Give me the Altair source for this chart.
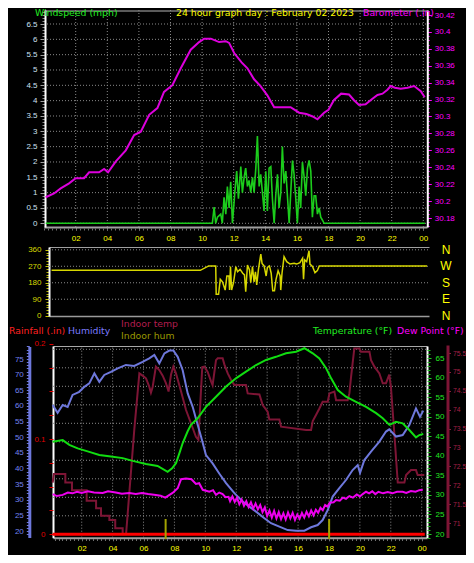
import altair as alt
import pandas as pd

# ---------------- series (hour of day, value) ----------------
BARO_HOURS = [0.1, 0.63, 1.05, 1.58, 2.0, 2.53, 2.85, 3.48, 3.8, 4.05,
              4.54, 5.17, 5.7, 6.12, 6.65, 7.17, 7.59, 8.12, 8.65, 9.28,
              9.81, 10.13, 10.55, 11.08, 11.5, 11.71, 12.03, 12.5, 12.87, 13.29,
              13.7, 14.13, 14.56, 15.1, 15.6, 16.14, 16.6, 17.0, 17.3, 17.72,
              18.0, 18.35, 18.8, 19.3, 19.6, 19.93, 20.35, 20.78, 21.1, 21.42,
              21.73, 21.94, 22.2, 22.57, 23.0, 23.42, 23.84, 24.09]
BARO_INHG = [30.2045, 30.209, 30.215, 30.221, 30.227, 30.227, 30.234, 30.234, 30.238, 30.234,
             30.247, 30.26, 30.278, 30.282, 30.302, 30.31, 30.329, 30.337, 30.357, 30.379,
             30.388, 30.392, 30.392, 30.388, 30.389, 30.387, 30.375, 30.364, 30.357, 30.344,
             30.336, 30.325, 30.311, 30.311, 30.311, 30.3045, 30.303, 30.300, 30.2967, 30.3045,
             30.308, 30.3195, 30.327, 30.326, 30.3195, 30.3136, 30.3144, 30.321, 30.3255, 30.327,
             30.3317, 30.336, 30.334, 30.3327, 30.334, 30.336, 30.330, 30.3227]

WIND_HOURS = [0.1, 10.65, 10.76, 10.86, 10.97, 11.18, 11.28, 11.39, 11.5, 11.6,
              11.71, 11.81, 11.92, 12.07, 12.19, 12.3, 12.45, 12.55, 12.66, 12.76,
              12.87, 12.97, 13.08, 13.19, 13.29, 13.4, 13.5, 13.61, 13.71, 13.82,
              13.92, 14.03, 14.13, 14.24, 14.35, 14.45, 14.56, 14.66, 14.77, 14.87,
              14.98, 15.08, 15.19, 15.3, 15.4, 15.51, 15.61, 15.72, 15.82, 15.93,
              16.03, 16.14, 16.24, 16.35, 16.46, 16.56, 16.67, 16.77, 16.88, 16.98,
              17.09, 17.19, 17.3, 17.41, 17.51, 17.62, 17.72, 24.1]
WIND_MPH = [0, 0, 0.53, 0, 0.2, 0.3, 0, 0.85, 0.3, 1.2,
            0.5, 1.35, 0, 1.0, 1.7, 0.8, 1.85, 1.0, 1.5, 1.8,
            1.2, 1.4, 1.0, 1.5, 1.0, 1.8, 2.85, 1.2, 1.6, 1.0,
            0.4, 1.7, 0.4, 1.8, 1.85, 0.8, 0, 0.9, 1.6, 0.5,
            1.0, 2.5, 1.3, 1.7, 0.9, 0, 1.0, 2.05, 1.6, 0.8,
            0, 1.2, 0.5, 2.0, 1.5, 0.9, 1.8, 2.05, 1.7, 0.2,
            0.9, 0.9, 0.3, 0.5, 0.2, 0.1, 0, 0]

DIR_HOURS = [0.1, 9.57, 10.1, 10.55, 10.58, 10.73, 10.84, 10.98, 11.15, 11.26,
             11.39, 11.43, 11.49, 11.56, 11.68, 11.83, 11.94, 12.1, 12.27, 12.38,
             12.46, 12.57, 12.7, 12.78, 12.89, 12.99, 13.08, 13.16, 13.27, 13.42,
             13.5, 13.63, 13.76, 13.84, 13.97, 14.08, 14.18, 14.29, 14.39, 14.52,
             14.65, 14.69, 14.77, 14.9, 15.07, 15.28, 15.54, 15.7, 15.91, 16.08,
             16.14, 16.21, 16.34, 16.49, 16.55, 16.72, 16.87, 17.02, 17.14, 24.0]
DIR_DEG = [248, 248, 272, 272, 117, 117, 199, 185, 140, 217,
           217, 140, 268, 140, 180, 268, 240, 253, 232, 223,
           131, 277, 250, 180, 268, 185, 240, 168, 253, 337,
           286, 272, 217, 264, 272, 232, 136, 136, 199, 246,
           217, 140, 232, 322, 295, 282, 286, 282, 290, 314,
           199, 305, 295, 355, 282, 268, 235, 246, 272, 272]

HUM_HOURS = [0.12, 0.44, 0.77, 1.09, 1.41, 1.84, 2.17, 2.49, 2.82, 3.14,
             3.46, 3.89, 4.33, 4.86, 5.4, 5.94, 6.37, 6.7, 7.02, 7.35,
             7.67, 7.93, 8.21, 8.53, 8.86, 9.18, 9.39, 9.72, 10.04, 10.47,
             10.9, 11.34, 11.88, 12.42, 12.85, 13.28, 13.82, 14.25, 14.79, 15.33,
             15.87, 16.41, 16.84, 17.27, 17.59, 17.92, 18.24, 18.67, 19.1, 19.53,
             19.86, 20.01, 20.29, 20.72, 21.26, 21.69, 21.9, 22.34, 22.77, 23.2,
             23.63, 23.89, 24.1]
HUM_PCT = [60.3, 57.8, 60.3, 59.7, 63.5, 64.5, 66.1, 67.2, 70.4, 67.7,
           69.9, 70.9, 72.0, 73.1, 72.8, 74.1, 75.2, 76.3, 73.6, 76.8,
           77.7, 77.7, 75.7, 71.5, 64.0, 59.7, 56.0, 50.2, 44.3, 41.6,
           38.4, 35.3, 32.1, 29.4, 27.8, 26.2, 24.1, 22.5, 21.4, 20.3,
           20.1, 20.1, 21.2, 21.9, 23.5, 26.7, 31.0, 33.7, 36.3, 39.5,
           41.1, 38.6, 42.7, 45.4, 48.6, 51.8, 52.5, 50.2, 50.7, 53.9,
           59.2, 56.5, 58.5]

TEMP_HOURS = [0.12, 0.77, 1.2, 1.74, 2.49, 3.14, 3.89, 4.65, 5.3, 6.16,
              6.91, 7.56, 7.85, 8.1, 8.35, 8.53, 8.85, 9.07, 9.5, 10.04,
              10.69, 11.34, 11.98, 12.63, 13.28, 13.93, 14.57, 15.22, 15.87, 16.41,
              16.95, 17.38, 17.81, 18.14, 18.57, 19.1, 19.75, 20.4, 21.05, 21.48,
              21.91, 22.34, 22.77, 23.2, 23.63, 23.85, 24.1]
TEMP_F = [43.6, 44.0, 42.8, 41.9, 41.0, 40.2, 39.8, 39.4, 38.7, 37.9,
          37.4, 35.9, 36.8, 38.1, 41.0, 43.2, 46.2, 47.9, 49.6, 52.5,
          55.1, 57.7, 59.8, 61.5, 63.2, 64.5, 65.3, 66.2, 66.6, 67.5,
          66.2, 64.9, 62.4, 59.8, 56.8, 55.1, 53.8, 52.5, 50.9, 49.6,
          47.9, 48.7, 48.3, 46.6, 44.7, 45.3, 45.6]

DEW_HOURS = [0.12, 0.4, 0.77, 1.1, 1.4, 1.7, 2.0, 2.4, 2.8, 3.36,
             3.7, 4.2, 4.6, 5.08, 5.5, 5.9, 6.3, 6.8, 7.1, 7.41,
             7.88, 8.21, 8.43, 8.75, 9.1, 9.39, 9.6, 9.83, 10.26, 10.5,
             10.69, 10.9, 11.12, 11.3, 11.5, 11.6, 11.75, 11.9, 12.05, 12.2,
             12.35, 12.5, 12.65, 12.8, 12.95, 13.1, 13.25, 13.4, 13.55, 13.7,
             13.85, 14.0, 14.15, 14.3, 14.45, 14.6, 14.75, 14.9, 15.05, 15.2,
             15.35, 15.5, 15.65, 15.8, 15.95, 16.1, 16.25, 16.4, 16.55, 16.7,
             16.85, 17.0, 17.15, 17.3, 17.45, 17.6, 17.75, 17.9, 18.05, 18.3,
             18.46, 18.7, 18.9, 19.1, 19.32, 19.55, 19.8, 20.0, 20.18, 20.4,
             20.6, 20.8, 21.0, 21.2, 21.5, 21.8, 22.1, 22.4, 22.77, 23.0,
             23.3, 23.6, 23.85, 24.07]
DEW_F = [30.2, 29.7, 30.0, 30.6, 30.4, 30.8, 30.5, 30.9, 30.6, 30.5,
         30.9, 30.6, 30.3, 30.5, 30.2, 30.5, 30.2, 30.0, 29.8, 29.3,
         30.5, 31.7, 34.0, 34.2, 34.0, 32.8, 33.0, 31.3, 30.8, 31.2,
         30.0, 30.6, 30.2, 29.4, 29.5, 28.4, 29.6, 28.2, 29.3, 27.6,
         28.8, 27.2, 28.4, 26.9, 28.1, 26.5, 27.8, 26.3, 27.4, 25.6,
         26.8, 24.6, 26.0, 24.2, 25.9, 24.0, 25.6, 23.8, 25.3, 23.7,
         25.5, 24.0, 25.4, 23.6, 25.0, 23.9, 25.4, 24.2, 25.7, 24.5,
         26.0, 24.8, 26.2, 25.4, 26.7, 26.1, 27.4, 27.0, 28.0, 28.1,
         28.7, 28.5, 29.3, 29.0, 29.7, 29.3, 30.1, 29.6, 30.2, 30.8,
         30.4, 30.9, 30.2, 30.8, 30.4, 30.7, 30.4, 30.8, 30.8, 30.5,
         31.0, 30.8, 31.2, 31.3]

INTEMP_HOURS = [0.12, 0.2, 0.94, 0.94, 1.37, 1.37, 2.32, 2.32, 2.93, 2.93,
                3.25, 3.25, 3.79, 3.79, 4.17, 4.17, 4.65, 4.65, 4.87, 5.4,
                5.73, 5.94, 6.16, 6.37, 6.48, 6.59, 6.8, 7.02, 7.24, 7.45,
                7.62, 7.78, 7.93, 8.1, 8.43, 8.75, 9.07, 9.39, 9.55, 9.8,
                9.94, 10.15, 10.37, 10.47, 10.69, 10.8, 11.12, 11.23, 11.45, 11.66,
                11.88, 12.63, 12.74, 13.5, 13.71, 14.03, 14.14, 14.79, 14.9, 16.52,
                16.84, 16.95, 17.16, 17.38, 17.59, 17.92, 18.03, 18.35, 18.46, 19.21,
                19.32, 19.43, 19.64, 19.96, 20.07, 20.62, 20.72, 20.94, 21.26, 21.48,
                21.69, 21.9, 22.01, 22.23, 22.45, 22.88, 22.99, 23.31, 23.63, 23.74,
                24.17]
INTEMP_F = [72.07, 72.3, 72.3, 72.07, 72.07, 71.87, 71.87, 71.59, 71.59, 71.39,
            71.39, 71.19, 71.19, 71.08, 71.08, 70.86, 70.86, 70.7, 70.7, 73.46,
            74.96, 74.9, 74.83, 74.61, 74.45, 74.6, 75.14, 75.05, 74.9, 74.7,
            74.48, 74.93, 75.14, 74.96, 74.48, 73.99, 73.64, 73.28, 73.2, 75.13,
            75.14, 75.0, 74.75, 74.65, 75.31, 75.36, 75.36, 75.2, 74.96, 74.79,
            74.65, 74.65, 74.43, 74.4, 74.12, 73.95, 73.74, 73.74, 73.55, 73.46,
            73.46, 73.7, 73.86, 74.03, 74.21, 74.21, 74.43, 74.48, 74.25, 74.25,
            74.43, 74.87, 75.62, 75.62, 75.53, 75.53, 75.31, 75.14, 74.96, 74.7,
            74.7, 74.93, 74.6, 73.37, 72.07, 72.07, 72.27, 72.4, 72.4, 72.27,
            72.27]

RAIN_HOURS = [0.12, 24.2]
RAIN_IN = [0.0, 0.0]
SUN_MARK_HOURS = [7.43, 18.01]

# ---------------- ticks and labels ----------------
HOUR_TICKS = [2, 4, 6, 8, 10, 12, 14, 16, 18, 20, 22, 24]
HOUR_LABELS = ["02", "04", "06", "08", "10", "12", "14", "16", "18", "20", "22", "00"]
HOUR_MINOR = [i * 0.25 for i in range(0, 97)]
WIND_TICKS = [0, 0.5, 1, 1.5, 2, 2.5, 3, 3.5, 4, 4.5, 5, 5.5, 6, 6.5]
WIND_MINOR = [round(i * 0.1, 1) for i in range(0, 70)]
BARO_TICKS = [30.18, 30.2, 30.22, 30.24, 30.26, 30.28, 30.3, 30.32, 30.34, 30.36, 30.38, 30.4, 30.42]
BARO_MINOR = [round(30.17 + i * 0.005, 3) for i in range(0, 52)]
DIR_TICKS = [0, 90, 180, 270, 360]
DIR_GRID = [90, 180, 270, 360]
DIR_MINOR = list(range(0, 361, 15))
COMPASS_DEG = [0, 90, 180, 270, 360]
COMPASS_TXT = ["N", "E", "S", "W", "N"]
HUM_MINOR = list(range(19, 80))
TEMP_TICKS = [20, 25, 30, 35, 40, 45, 50, 55, 60, 65]
TEMP_MINOR = list(range(19, 68))
INTEMP_TICKS = [71, 71.5, 72, 72.5, 73, 73.5, 74, 74.5, 75, 75.5]
RAIN_TICKS = [0, 0.1, 0.2]
RAIN_LABELS = ["0", "0.1", "0.2"]
RAIN_MINOR = [round(i * 0.025, 3) for i in range(0, 9)]
GRID3_STEPS = list(range(1, 11))

# ---------------- layout helpers ----------------
W, H = 458, 547
M = 8
FONT = "Arial"
TFONT = "DejaVu Sans"
GRID = "#8a8a8a"
DASH = [1, 2]


def lin(v0, p0, v1, p1, lo, hi):
    k = (p1 - p0) / (v1 - v0)
    d0 = v0 + (lo - p0) / k
    d1 = v0 + (hi - p0) / k
    return alt.Scale(domain=[d0, d1], range=[lo - M, hi - M], nice=False, zero=False)


BASE = dict(title=None, grid=False, domain=False, ticks=False, labels=False,
            labelFont=FONT, labelFontSize=8, labelOverlap=False, labelFlush=False)


def axis(orient, at, **kw):
    p = at - M
    off = {"left": -p, "right": p - W, "top": -p, "bottom": p - H}[orient]
    opts = dict(BASE)
    opts.update(kw)
    return alt.Axis(orient=orient, offset=off, **opts)


def label_map(values, labels):
    expr = "''"
    for v, l in zip(values, labels):
        expr = f"abs(datum.value - {v}) < 0.000001 ? '{l}' : ({expr})"
    return expr


def series(hours, vals):
    return pd.DataFrame({"h": hours, "v": vals, "i": list(range(len(hours)))})


def txt(s, x, y, color, size=9.3, font=TFONT, align="left"):
    return alt.Chart(pd.DataFrame({"t": [s]})).mark_text(
        align=align, baseline="middle", color=color, font=font, fontSize=size
    ).encode(x=alt.value(x - M), y=alt.value(y - M), text="t:N")


# ---------------- panel 1 : windspeed + barometer ----------------
X1 = lin(0, 44.1, 24, 423.3, 44, 427)
W1 = lin(0, 223.3, 6.5, 24, 227, 10)
B1 = lin(30.18, 218, 30.42, 15, 227, 10)

p1_hgrid = alt.Chart(pd.DataFrame({"v": WIND_TICKS, "a": X1.domain[0], "b": X1.domain[1]})).mark_rule(
    color=GRID, strokeDash=DASH, strokeWidth=1).encode(
    x=alt.X("a:Q", scale=X1, axis=axis("top", 10.5, domain=True, domainColor="#b4b4b4", domainWidth=1)),
    x2="b:Q",
    y=alt.Y("v:Q", scale=W1, axis=axis("left", 45, ticks=True, values=WIND_MINOR, tickSize=3, tickColor="#8a8a8a")))

p1_vgrid = alt.Chart(pd.DataFrame({"h": HOUR_TICKS, "lo": B1.domain[0], "hi": B1.domain[1]})).mark_rule(
    color=GRID, strokeDash=DASH, strokeWidth=1).encode(
    x=alt.X("h:Q", scale=X1, axis=axis("bottom", 227, domain=True, domainColor="#a0a0a0", domainWidth=2,
                                       ticks=True, tickColor="#a0a0a0", tickSize=3, labels=True,
                                       values=HOUR_TICKS, labelExpr=label_map(HOUR_TICKS, HOUR_LABELS),
                                       labelColor="#ffff00", labelPadding=4)),
    y=alt.Y("lo:Q", scale=B1, axis=axis("right", 427.3, ticks=True, values=BARO_MINOR, tickSize=2,
                                        tickColor="#cc00cc")),
    y2="hi:Q")

p1_baro = alt.Chart(series(BARO_HOURS, BARO_INHG)).mark_line(color="#dd00dd", strokeWidth=2).encode(
    x=alt.X("h:Q", scale=X1, axis=None),
    y=alt.Y("v:Q", scale=B1, axis=axis("right", 427.3, domain=True, domainColor="#ffffff", domainWidth=2,
                                       ticks=True, tickColor="#ff00ff", tickSize=4, labels=True,
                                       values=BARO_TICKS, format="~g", labelColor="#ff00ff", labelPadding=3)),
    order="i:Q")

p1_wind = alt.Chart(series(WIND_HOURS, WIND_MPH)).mark_line(color="#1ccc1c", strokeWidth=1.6).encode(
    x=alt.X("h:Q", scale=X1, axis=axis("bottom", 228, ticks=True, values=HOUR_MINOR, tickSize=2,
                                       tickColor="#707070")),
    y=alt.Y("v:Q", scale=W1, axis=axis("left", 45, domain=True, domainColor="#ffffff", domainWidth=2,
                                       ticks=True, tickColor="#a0a0a0", tickSize=5, labels=True,
                                       values=WIND_TICKS, format="~g", labelColor="#cfe0f2", labelPadding=3)),
    order="i:Q")

# ---------------- panel 2 : wind direction ----------------
X2 = lin(0, 50, 24, 427, 49, 429)
D2 = lin(0, 315.7, 360, 249.8, 316, 247)

p2_hgrid = alt.Chart(pd.DataFrame({"v": DIR_GRID, "a": X2.domain[0], "b": X2.domain[1]})).mark_rule(
    color=GRID, strokeDash=DASH, strokeWidth=1).encode(
    x=alt.X("a:Q", scale=X2, axis=axis("top", 247, domain=True, domainColor="#a0a0a0", domainWidth=1)),
    x2="b:Q",
    y=alt.Y("v:Q", scale=D2, axis=axis("left", 49, ticks=True, values=DIR_MINOR, tickSize=3,
                                       tickColor="#b8b800")))

p2_dir = alt.Chart(series(DIR_HOURS, DIR_DEG)).mark_line(color="#d6d600", strokeWidth=1.5).encode(
    x=alt.X("h:Q", scale=X2, axis=axis("bottom", 316, domain=True, domainColor="#9a9a9a", domainWidth=1.5)),
    y=alt.Y("v:Q", scale=D2, axis=axis("left", 49, domain=True, domainColor="#ffffff", domainWidth=2,
                                       ticks=True, tickColor="#c8c800", tickSize=4, labels=True,
                                       values=DIR_TICKS, format="d", labelColor="#d8d800", labelPadding=4)),
    order="i:Q")

p2_compass = alt.Chart(pd.DataFrame({"deg": COMPASS_DEG, "t": COMPASS_TXT})).mark_text(
    color="#ffff00", font=FONT, fontSize=12, align="center", baseline="middle").encode(
    x=alt.value(446 - M),
    y=alt.Y("deg:Q", scale=D2, axis=None),
    text="t:N")

# ---------------- panel 3 : rain / humidity / temperatures ----------------
X3 = lin(0, 50.8, 24, 421.7, 53, 427)
G3 = lin(0, 534.3, 10, 349.3, 537.7, 346)
H3 = lin(20, 531, 75, 359, 537.5, 346.5)
R3 = lin(0, 534.3, 0.1, 439, 537.7, 343)
T3 = lin(20, 534, 65, 358, 537.7, 346)
I3 = lin(71, 523, 75.5, 353, 537.5, 345)

p3_hgrid = alt.Chart(pd.DataFrame({"v": GRID3_STEPS, "a": X3.domain[0], "b": X3.domain[1]})).mark_rule(
    color=GRID, strokeDash=DASH, strokeWidth=1).encode(
    x=alt.X("a:Q", scale=X3, axis=axis("top", 346, domain=True, domainColor="#a8a8a8", domainWidth=1)),
    x2="b:Q",
    y=alt.Y("v:Q", scale=G3, axis=axis("left", 53, domain=True, domainColor="#ffffff", domainWidth=2)))

p3_vgrid = alt.Chart(pd.DataFrame({"h": HOUR_TICKS, "lo": G3.domain[0], "hi": G3.domain[1]})).mark_rule(
    color=GRID, strokeDash=DASH, strokeWidth=1).encode(
    x=alt.X("h:Q", scale=X3, axis=axis("bottom", 537.7, domain=True, domainColor="#a0a0a0", domainWidth=2,
                                       ticks=True, tickColor="#a0a0a0", tickSize=3, labels=True,
                                       values=HOUR_TICKS, labelExpr=label_map(HOUR_TICKS, HOUR_LABELS),
                                       labelColor="#ffff00", labelPadding=4)),
    y=alt.Y("lo:Q", scale=G3, axis=None),
    y2="hi:Q")

p3_itemp = alt.Chart(series(INTEMP_HOURS, INTEMP_F)).mark_line(color="#7d1535", strokeWidth=2).encode(
    x=alt.X("h:Q", scale=X3, axis=None),
    y=alt.Y("v:Q", scale=I3, axis=axis("right", 447.5, domain=True, domainColor="#7d1535", domainWidth=3,
                                       ticks=True, tickColor="#8c1a3c", tickSize=3, labels=True,
                                       values=INTEMP_TICKS, format="~g", labelColor="#a8204a",
                                       labelPadding=2, labelFontSize=6.8)),
    order="i:Q")

p3_hum = alt.Chart(series(HUM_HOURS, HUM_PCT)).mark_line(color="#6e78dc", strokeWidth=2).encode(
    x=alt.X("h:Q", scale=X3, axis=None),
    y=alt.Y("v:Q", scale=H3, axis=axis("left", 29.3, domain=True, domainColor="#6e78dc", domainWidth=3,
                                       ticks=True, tickColor="#6e78dc", tickSize=3, labels=True,
                                       values=HUM_MINOR,
                                       labelExpr="datum.value % 5 == 0 && datum.value >= 20 && datum.value <= 75 ? '' + datum.value : ''",
                                       labelColor="#7484ee", labelPadding=3)),
    order="i:Q")

p3_temp = alt.Chart(series(TEMP_HOURS, TEMP_F)).mark_line(color="#11dd11", strokeWidth=2).encode(
    x=alt.X("h:Q", scale=X3, axis=None),
    y=alt.Y("v:Q", scale=T3, axis=axis("right", 427, domain=True, domainColor="#ffffff", domainWidth=2,
                                       ticks=True, tickColor="#22dd22", tickSize=4, labels=True,
                                       values=TEMP_TICKS, labelColor="#22e622", labelPadding=4)),
    order="i:Q")

p3_dew = alt.Chart(series(DEW_HOURS, DEW_F)).mark_line(color="#ee00ee", strokeWidth=2).encode(
    x=alt.X("h:Q", scale=X3, axis=None),
    y=alt.Y("v:Q", scale=T3, axis=axis("right", 427, ticks=True, values=TEMP_MINOR, tickSize=3,
                                       tickColor="#22bb22")),
    order="i:Q")

p3_rain = alt.Chart(series(RAIN_HOURS, RAIN_IN)).mark_line(color="#ff0000", strokeWidth=3).encode(
    x=alt.X("h:Q", scale=X3, axis=axis("bottom", 538.5, ticks=True, values=HOUR_MINOR, tickSize=2,
                                       tickColor="#707070")),
    y=alt.Y("v:Q", scale=R3, axis=axis("left", 53, ticks=True, tickColor="#dd0000", tickSize=4, labels=True,
                                       values=RAIN_MINOR, labelExpr=label_map(RAIN_TICKS, RAIN_LABELS),
                                       labelColor="#e00000", labelPadding=4)),
    order="i:Q")

p3_sun = alt.Chart(pd.DataFrame({"h": SUN_MARK_HOURS})).mark_rule(color="#a3a300", strokeWidth=2).encode(
    x=alt.X("h:Q", scale=X3, axis=None),
    y=alt.value(519 - M),
    y2=alt.value(539 - M))

# ---------------- texts ----------------
texts = [
    txt("Windspeed (mph)", 35, 13, "#22ee22"),
    txt("24 hour graph day : February 02 2023", 176, 13, "#ffff00"),
    txt("Barometer (.in)", 363, 13, "#ff00ff"),
    txt("Rainfall (.in)", 9, 331, "#ff2020"),
    txt("Humidity", 68, 331, "#7b7bff"),
    txt("Indoor temp", 121, 324, "#b31e4e"),
    txt("Indoor hum", 121, 336, "#9a9a00"),
    txt("Temperature (°F)", 313, 331, "#22ee22"),
    txt("Dew Point (°F)", 397, 331, "#ff00ff"),
]

chart = alt.layer(
    p1_hgrid, p1_vgrid, p1_baro, p1_wind,
    p2_hgrid, p2_dir, p2_compass,
    p3_hgrid, p3_vgrid, p3_itemp, p3_hum, p3_temp, p3_dew, p3_rain, p3_sun,
    *texts
).resolve_scale(x="independent", y="independent").resolve_axis(
    x="independent", y="independent"
).properties(
    width=W, height=H, padding=0, autosize=alt.AutoSizeParams(type="none")
).configure(background="#000000").configure_view(strokeWidth=0)

chart.save("out.html", embed_options={"renderer": "svg", "actions": False})
